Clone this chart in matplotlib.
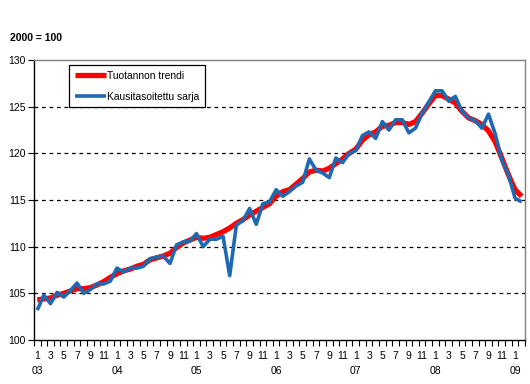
import matplotlib
matplotlib.use("Agg")
import matplotlib.pyplot as plt

plt.rcParams['font.family'] = ['Liberation Sans', 'DejaVu Sans']

# monthly, Jan 2003 .. Feb 2009
years = ['03', '04', '05', '06', '07', '08', '09']
n_months = 74

trend = [104.3, 104.4, 104.5, 104.8, 105.0, 105.25, 105.5, 105.5, 105.6, 105.9, 106.25, 106.7,
         107.1, 107.4, 107.6, 107.9, 108.1, 108.6, 108.8, 109.0, 109.3, 109.9, 110.4, 110.7,
         111.0, 110.9, 111.0, 111.3, 111.6, 112.0, 112.5, 112.9, 113.4, 113.8, 114.2, 114.6,
         115.4, 115.9, 116.1, 116.7, 117.3, 118.0, 118.2, 118.1, 118.4, 118.9, 119.4, 120.0,
         120.45, 121.4, 122.0, 122.3, 122.9, 123.0, 123.3, 123.3, 123.1, 123.4, 124.3, 125.3,
         126.2, 126.2, 125.8, 125.4, 124.5, 123.8, 123.5, 123.1, 122.4, 121.25, 119.5, 117.7,
         116.1, 115.4]

seasonal = [103.2, 104.8, 103.9, 105.1, 104.6, 105.3, 106.1, 105.0, 105.4, 106.0, 106.0, 106.3,
            107.7, 107.3, 107.7, 107.7, 107.9, 108.7, 108.9, 109.0, 108.2, 110.2, 110.5, 110.6,
            111.4, 110.0, 110.8, 110.8, 111.1, 106.9, 112.3, 112.8, 114.1, 112.4, 114.6, 114.8,
            116.1, 115.4, 115.9, 116.5, 116.9, 119.4, 118.2, 117.9, 117.4, 119.5, 119.0, 120.0,
            120.3, 121.9, 122.3, 121.6, 123.4, 122.5, 123.6, 123.6, 122.2, 122.7, 124.3, 125.5,
            126.7, 126.7, 125.6, 126.1, 124.5, 123.8, 123.5, 122.7, 124.2, 122.1, 119.3, 117.7,
            115.2, 114.8]

x = list(range(n_months))

fig = plt.figure(figsize=(5.3, 3.84), dpi=100)
ax = fig.add_axes([0.064, 0.1146, 0.9266, 0.7291])

ax.plot(x, trend, color='#ff0000', lw=3.8, label='Tuotannon trendi', solid_capstyle='butt')
ax.plot(x, seasonal, color='#1f69b3', lw=2.6, label='Kausitasoitettu sarja', solid_capstyle='butt')

ax.set_xlim(-0.5, n_months - 0.5)
ax.set_ylim(100, 130)
ax.set_yticks(range(100, 131, 5))
for v in range(105, 130, 5):
    ax.axhline(v, color='black', lw=0.9, ls=(0, (3, 3)), zorder=0)

# month labels every other month, year under January
ticks, labels = [], []
for i in range(n_months):
    m = i % 12 + 1
    if m % 2 == 1:
        ticks.append(i)
        if m == 1:
            labels.append('%d\n%s' % (m, years[i // 12]))
        else:
            labels.append(str(m))
ax.set_xticks(ticks)
ax.set_xticklabels(labels, fontsize=7.5, linespacing=1.55, va='top')
ax.tick_params(axis='x', length=0, pad=8)
ax.set_xticks([i - 0.5 for i in range(n_months + 1)], minor=True)
ax.tick_params(axis='x', which='minor', length=4, width=0.8, direction='out')
ax.tick_params(axis='y', length=4, width=0.8, direction='out', labelsize=7.5, pad=2)

for s in ['top', 'right']:
    ax.spines[s].set_color('#808080')
    ax.spines[s].set_linewidth(1.0)
for s in ['left', 'bottom']:
    ax.spines[s].set_color('black')
    ax.spines[s].set_linewidth(1.0)

fig.text(0.019, 0.9, '2000 = 100', fontsize=7.5, fontweight='bold', va='center')

leg = ax.legend(loc='upper left', bbox_to_anchor=(0.072, 0.982), fontsize=7.4,
                frameon=True, fancybox=False, framealpha=1, edgecolor='black',
                handlelength=3.0, handletextpad=0.1, borderpad=0.55, labelspacing=1.05,
                borderaxespad=0)
leg.get_frame().set_linewidth(0.9)

fig.savefig('out.png', dpi=100)
